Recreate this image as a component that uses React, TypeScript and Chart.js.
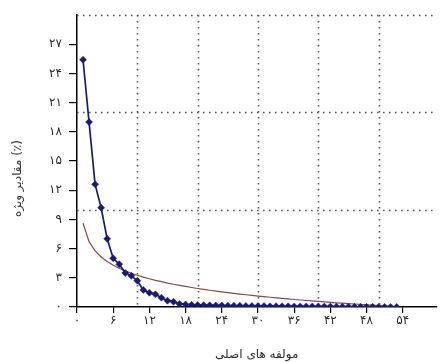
import React, { useEffect, useRef } from 'react';
import { Chart, registerables } from 'chart.js';

Chart.register(...registerables);

// Component numbers (x)
const components = [
  1, 2, 3, 4, 5, 6, 7, 8, 9, 10, 11, 12, 13, 14, 15, 16, 17, 18, 19, 20,
  21, 22, 23, 24, 25, 26, 27, 28, 29, 30, 31, 32, 33, 34, 35, 36, 37, 38, 39, 40,
  41, 42, 43, 44, 45, 46, 47, 48, 49, 50, 51, 52, 53,
];

// Eigenvalues (%) – blue series with diamond markers
const eigenValues = [
  25.4, 19.0, 12.6, 10.2, 7.0, 5.0, 4.4, 3.5, 3.2, 2.7,
  1.75, 1.47, 1.3, 0.96, 0.65, 0.54, 0.32, 0.26, 0.23, 0.21,
  0.19, 0.17, 0.16, 0.15, 0.14, 0.13, 0.12, 0.11, 0.1, 0.09,
  0.09, 0.08, 0.08, 0.07, 0.07, 0.06, 0.06, 0.05, 0.05, 0.04,
  0.04, 0.04, 0.03, 0.03, 0.03, 0.02, 0.02, 0.02, 0.02, 0.01,
  0.01, 0.01, 0.01,
];

// Reference curve (%) – brown line
const referenceCurve = [
  8.6, 6.71, 5.77, 5.14, 4.67, 4.29, 3.98, 3.71, 3.47, 3.26,
  3.07, 2.9, 2.74, 2.6, 2.46, 2.34, 2.22, 2.11, 2.0, 1.9,
  1.81, 1.72, 1.63, 1.55, 1.47, 1.4, 1.33, 1.26, 1.19, 1.12,
  1.06, 1.0, 0.94, 0.88, 0.83, 0.77, 0.72, 0.67, 0.62, 0.57,
  0.53, 0.48, 0.43, 0.39, 0.35, 0.31, 0.26, 0.22, 0.19, 0.15,
  0.11, 0.07, 0.04,
];

const xTickValues = [0, 6, 12, 18, 24, 30, 36, 42, 48, 54];
const yTickValues = [0, 3, 6, 9, 12, 15, 18, 21, 24, 27];
const xGridValues = [10, 20, 30, 40, 50];
const yGridValues = [10, 20, 30];

const xTitle = 'مولفه های اصلی';
const yTitle = 'مقادیر ویژه (٪)';

const persianDigits = '۰۱۲۳۴۵۶۷۸۹';
const toPersian = (v: number | string) =>
  String(v).replace(/\d/g, (d) => persianDigits[Number(d)]);

const FONT_FAMILY = "'DejaVu Sans', sans-serif";

const dottedGrid = {
  id: 'dottedGrid',
  beforeDatasetsDraw(chart: any) {
    const { ctx, chartArea, scales } = chart;
    const xs = scales.x;
    const ys = scales.y;
    ctx.save();
    ctx.strokeStyle = '#555';
    ctx.lineWidth = 1.6;
    ctx.setLineDash([1.6, 4.4]);
    for (const v of xGridValues) {
      const px = Math.round(xs.getPixelForValue(v)) + 0.5;
      ctx.beginPath();
      ctx.moveTo(px, chartArea.top);
      ctx.lineTo(px, chartArea.bottom);
      ctx.stroke();
    }
    for (const v of yGridValues) {
      const py = Math.round(ys.getPixelForValue(v)) + 0.5;
      ctx.beginPath();
      ctx.moveTo(chartArea.left, py);
      ctx.lineTo(chartArea.right, py);
      ctx.stroke();
    }
    ctx.restore();
  },
};

// y-axis title, placed a little below the axis centre as in the reference
const yAxisTitle = {
  id: 'yAxisTitle',
  afterDraw(chart: any) {
    const { ctx, scales } = chart;
    const ys = scales.y;
    const cy = ys.getPixelForValue(13.2);
    ctx.save();
    ctx.translate(18, cy);
    ctx.rotate(-Math.PI / 2);
    ctx.fillStyle = '#333';
    ctx.font = `12px ${FONT_FAMILY}`;
    ctx.textAlign = 'center';
    ctx.textBaseline = 'middle';
    ctx.fillText(yTitle, 0, 0);
    ctx.restore();
  },
};

export default function App() {
  const canvasRef = useRef<HTMLCanvasElement | null>(null);

  useEffect(() => {
    if (!canvasRef.current) return;
    const font = { family: FONT_FAMILY, size: 12 };
    const chart = new Chart(canvasRef.current, {
      type: 'line',
      data: {
        datasets: [
          {
            label: 'eigen',
            data: components.map((c, i) => ({ x: c, y: eigenValues[i] })),
            borderColor: '#1b1b6e',
            backgroundColor: '#1b1b6e',
            borderWidth: 1.7,
            pointStyle: 'rectRot',
            pointRadius: 3.5,
            pointBackgroundColor: '#1b1b6e',
            pointBorderColor: '#1b1b6e',
            pointBorderWidth: 0.5,
            tension: 0,
          },
          {
            label: 'reference',
            data: components.map((c, i) => ({ x: c, y: referenceCurve[i] })),
            borderColor: '#8c4848',
            borderWidth: 1.2,
            pointRadius: 0,
            tension: 0,
          },
        ],
      },
      options: {
        animation: false,
        responsive: false,
        maintainAspectRatio: false,
        layout: { padding: { top: 15, right: 0, left: 0, bottom: 0 } },
        plugins: {
          legend: { display: false },
          tooltip: { enabled: false },
        },
        scales: {
          x: {
            type: 'linear',
            min: 0,
            max: 59.6,
            afterBuildTicks: (s: any) => {
              s.ticks = xTickValues.map((v) => ({ value: v }));
            },
            afterFit: (s: any) => {
              s.height = 55;
            },
            ticks: {
              autoSkip: false,
              maxRotation: 0,
              padding: 1,
              color: '#2a2a2a',
              font,
              callback: (v: any) => toPersian(v),
            },
            grid: {
              display: true,
              drawOnChartArea: false,
              drawTicks: true,
              tickLength: 6,
              color: '#000',
              lineWidth: 1.2,
            },
            border: { display: true, color: '#000', width: 1.5 },
            title: {
              display: true,
              text: xTitle,
              color: '#2a2a2a',
              font: { family: FONT_FAMILY, size: 12 },
              padding: { top: 12, bottom: 0 },
            },
          },
          y: {
            type: 'linear',
            min: 0,
            max: 30,
            afterBuildTicks: (s: any) => {
              s.ticks = yTickValues.map((v) => ({ value: v }));
            },
            afterFit: (s: any) => {
              s.width = 77;
            },
            ticks: {
              autoSkip: false,
              padding: 7,
              color: '#2a2a2a',
              font,
              callback: (v: any) => toPersian(v),
            },
            grid: {
              display: true,
              drawOnChartArea: false,
              drawTicks: true,
              tickLength: 8,
              color: '#000',
              lineWidth: 1.2,
            },
            border: { display: true, color: '#000', width: 1.5 },
          },
        },
      },
      plugins: [dottedGrid, yAxisTitle],
    } as any);
    return () => chart.destroy();
  }, []);

  return (
    <div style={{ position: 'fixed', left: 0, top: 0, width: 441, height: 362, background: '#fff' }}>
      <canvas ref={canvasRef} width={441} height={362} style={{ display: 'block' }} />
    </div>
  );
}
